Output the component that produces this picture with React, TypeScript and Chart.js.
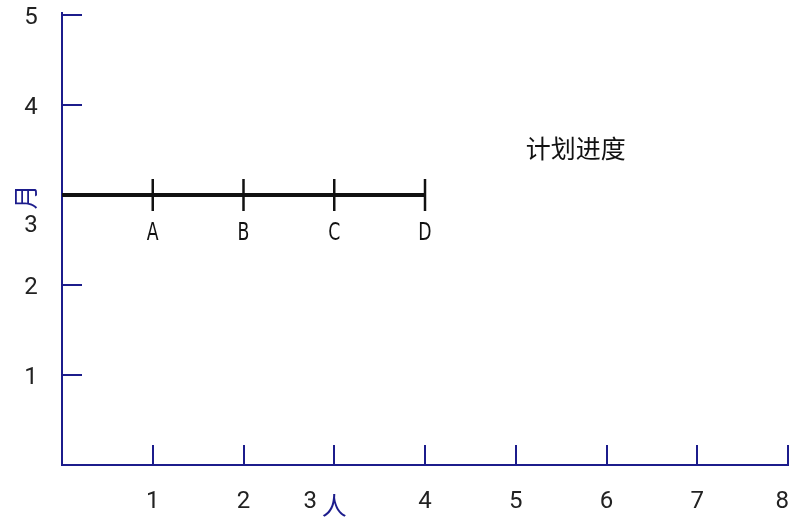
import { useEffect, useRef } from 'react';
import { Chart, registerables } from 'chart.js';

Chart.register(...registerables);

// ---- data ----
const xMin = 0;
const xMax = 8;
const yMin = 0;
const yMax = 5;
const xTickValues = [1, 2, 3, 4, 5, 6, 7, 8];
const yTickValues = [1, 2, 3, 4, 5];
const milestoneNames = ['A', 'B', 'C', 'D'];
const milestoneX = [1, 2, 3, 4];
const planStartX = 0;
const planY = 3;
const xAxisTitle = '人';
const yAxisTitle = '月';
const xAxisTitleAt = 3;
const yAxisTitleAt = 3;
const noteText = '计划进度';
const noteX = 5.66;
const noteY = 3.52;

const NAVY = '#1c1c8c';
const INK = '#111111';
const DIGIT_FONT = '24px Roboto, "Liberation Sans", sans-serif';
const NARROW_FONT = '24px "Liberation Sans Narrow", "DejaVu Sans Condensed", Roboto, sans-serif';
const CJK_FONT = '25px "Noto Sans CJK SC", sans-serif';

const overlayPlugin = {
  id: 'overlay',
  beforeDatasetsDraw(chart: any) {
    const { ctx } = chart;
    const xs = chart.scales.x;
    const ys = chart.scales.y;
    const x0 = Math.round(xs.getPixelForValue(xMin));
    const y0 = Math.round(ys.getPixelForValue(yMin));
    const x1 = Math.round(xs.getPixelForValue(xMax));
    const yTop = Math.round(ys.getPixelForValue(yMax)) - 3;
    ctx.save();
    ctx.strokeStyle = NAVY;
    ctx.lineWidth = 2;
    ctx.lineCap = 'butt';
    // axis lines
    ctx.beginPath();
    ctx.moveTo(x0, yTop);
    ctx.lineTo(x0, y0 + 1);
    ctx.moveTo(x0 - 1, y0);
    ctx.lineTo(x1 + 1, y0);
    ctx.stroke();
    // inward tick marks
    xTickValues.forEach((v) => {
      const px = Math.round(xs.getPixelForValue(v));
      ctx.beginPath();
      ctx.moveTo(px, y0);
      ctx.lineTo(px, y0 - 20);
      ctx.stroke();
    });
    yTickValues.forEach((v) => {
      const py = Math.round(ys.getPixelForValue(v));
      ctx.beginPath();
      ctx.moveTo(x0, py);
      ctx.lineTo(x0 + 20, py);
      ctx.stroke();
    });
    ctx.restore();
  },
  afterDraw(chart: any) {
    const { ctx } = chart;
    const xs = chart.scales.x;
    const ys = chart.scales.y;
    const x0 = xs.getPixelForValue(xMin);
    const y0 = ys.getPixelForValue(yMin);
    ctx.save();
    // tick labels
    ctx.fillStyle = '#222222';
    ctx.font = DIGIT_FONT;
    ctx.textAlign = 'center';
    ctx.textBaseline = 'middle';
    xTickValues.forEach((v) => {
      const txt = String(v);
      let px = xs.getPixelForValue(v);
      if (v === xAxisTitleAt) px -= 24;
      const half = ctx.measureText(txt).width / 2;
      px = Math.min(px, chart.width - half - 2);
      ctx.fillText(txt, px, y0 + 37);
    });
    yTickValues.forEach((v) => {
      let py = ys.getPixelForValue(v) + 3;
      if (v === yAxisTitleAt) py += 28;
      ctx.fillText(String(v), x0 - 31, py);
    });
    // axis titles
    ctx.fillStyle = NAVY;
    ctx.font = CJK_FONT;
    ctx.fillText(xAxisTitle, xs.getPixelForValue(xAxisTitleAt), y0 + 40);
    ctx.save();
    ctx.translate(x0 - 37, ys.getPixelForValue(yAxisTitleAt) + 2);
    ctx.rotate(-Math.PI / 2);
    ctx.fillText(yAxisTitle, 0, 0);
    ctx.restore();
    // milestone labels (condensed)
    ctx.fillStyle = INK;
    ctx.font = NARROW_FONT;
    const meta = chart.getDatasetMeta(1);
    meta.data.forEach((pt: any, i: number) => {
      ctx.save();
      ctx.translate(pt.x, pt.y + 38);
      ctx.scale(0.8, 1.05);
      ctx.fillText(milestoneNames[i], 0, 0);
      ctx.restore();
    });
    // note
    ctx.font = CJK_FONT;
    ctx.fillText(noteText, xs.getPixelForValue(noteX), ys.getPixelForValue(noteY));
    ctx.restore();
  },
};

export default function App() {
  const canvasRef = useRef<HTMLCanvasElement | null>(null);

  useEffect(() => {
    if (!canvasRef.current) return;
    document.body.style.overflow = 'hidden';
    const chart = new Chart(canvasRef.current, {
      type: 'scatter',
      data: {
        datasets: [
          {
            data: [
              { x: planStartX, y: planY },
              { x: milestoneX[milestoneX.length - 1], y: planY },
            ],
            showLine: true,
            borderColor: INK,
            borderWidth: 4,
            pointRadius: 0,
          },
          {
            data: milestoneX.map((x) => ({ x, y: planY })),
            showLine: false,
            pointStyle: 'line',
            pointRotation: 90,
            pointRadius: 16,
            pointBorderWidth: 2.5,
            pointBorderColor: INK,
            pointBackgroundColor: INK,
          },
        ],
      },
      options: {
        animation: false,
        responsive: false,
        devicePixelRatio: 1,
        layout: { autoPadding: false, padding: { left: 62, right: 3, top: 15, bottom: 55 } },
        plugins: { legend: { display: false }, tooltip: { enabled: false } },
        scales: {
          x: { type: 'linear', display: false, min: xMin, max: xMax, ticks: { stepSize: 1 } },
          y: { type: 'linear', display: false, min: yMin, max: yMax, ticks: { stepSize: 1 } },
        },
      },
      plugins: [overlayPlugin],
    });
    return () => chart.destroy();
  }, []);

  return (
    <div
      style={{
        position: 'absolute',
        left: 0,
        top: 0,
        width: 791,
        height: 520,
        overflow: 'hidden',
        background: '#ffffff',
      }}
    >
      <canvas ref={canvasRef} width={791} height={520} style={{ display: 'block', width: 791, height: 520 }} />
    </div>
  );
}
